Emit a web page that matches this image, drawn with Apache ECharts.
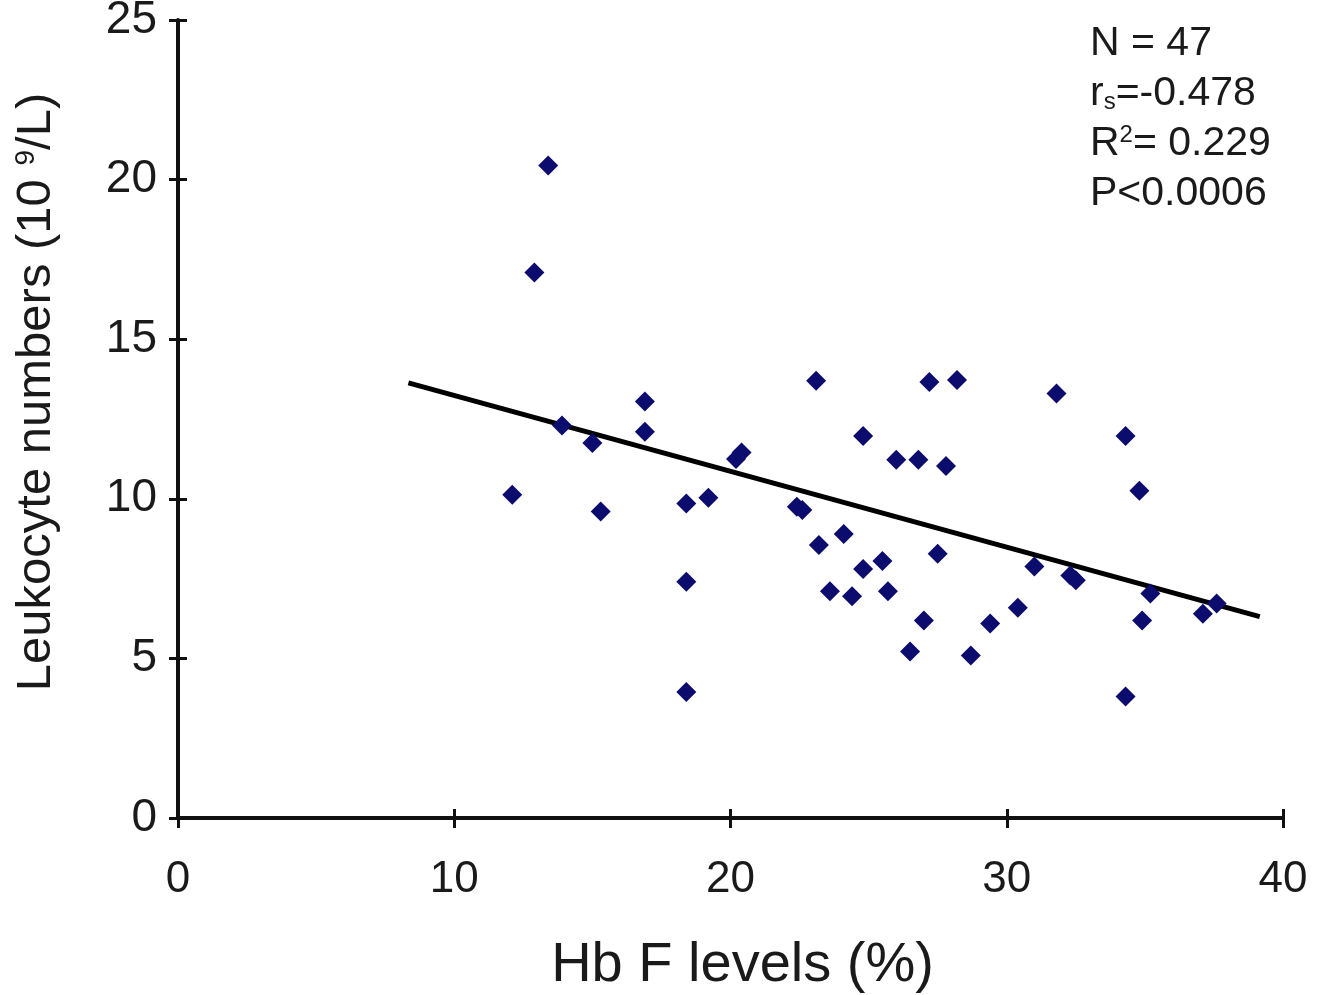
<!DOCTYPE html>
<html>
<head>
<meta charset="utf-8">
<script src="https://cdn.jsdelivr.net/npm/echarts@6/dist/echarts.min.js"></script>
<style>
  html, body { margin: 0; padding: 0; background: #fff; }
  #chart { width: 1333px; height: 995px; }
</style>
</head>
<body>
<div id="chart"></div>
<script>
// Hb F (%) vs leukocyte count
const hbf = [12.1, 13.4, 12.9, 13.9, 15.0, 15.3, 16.9, 16.9, 18.4, 18.4, 18.4, 19.2,
  20.2, 20.4, 22.4, 22.6, 23.1, 23.2, 24.1, 23.6, 24.4, 24.8, 25.5, 25.7, 24.8,
  26.0, 26.8, 27.8, 27.2, 28.2, 27.5, 27.0, 26.5, 28.7, 29.4, 30.4, 31.0, 31.8,
  32.3, 32.5, 34.3, 34.8, 35.2, 34.9, 34.3, 37.1, 37.6]
const leuko = [10.13, 20.44, 17.09, 12.3, 11.75, 9.6, 13.05, 12.1, 9.85, 7.4, 3.95, 10.03,
  11.25, 11.45, 9.75, 9.65, 13.7, 8.55, 8.9, 7.1, 6.95, 7.8, 8.05, 7.1, 11.97,
  11.22, 11.22, 11.03, 13.66, 13.72, 8.28, 6.19, 5.22, 5.09, 6.09, 6.59, 7.88, 13.3,
  7.6, 7.45, 11.97, 10.25, 7.03, 6.19, 3.81, 6.4, 6.72]
// regression line end points
const trendX = [8.34, 39.16]
const trendY = [13.63, 6.31]
const statLines = ['N = 47', '{t|r}{sub|s}{t|=-0.478}', '{t|R}{sup|2}{t|= 0.229}', 'P<0.0006']

const font = 'Liberation Sans, Arial, sans-serif'
const ink = '#1a1a1a'
const chart = echarts.init(document.getElementById('chart'))

let points = hbf.map((x, i) => [x, leuko[i]])
let trend = trendX.map((x, i) => [x, trendY[i]])

let option = {
  backgroundColor: '#fff',
  animation: false,
  grid: { left: 178, right: 50, top: 20, bottom: 177, containLabel: false, outerBoundsMode: 'none' },
  xAxis: [{
    type: 'value',
    min: 0, max: 40, interval: 10,
    name: 'Hb F levels (%)',
    nameLocation: 'middle',
    nameGap: 120,
    nameTextStyle: { fontFamily: font, fontSize: 56, color: ink, padding: [0, 0, 0, 24] },
    axisLine: { onZero: false, lineStyle: { color: '#111', width: 4 } },
    axisTick: { show: true, length: 10, lineStyle: { color: '#111', width: 3 } },
    axisLabel: { margin: 40, fontFamily: font, fontSize: 44, color: ink },
    splitLine: { show: false }
  }, {
    // second copy only to draw the inner half of the crossing ticks
    type: 'value',
    position: 'bottom',
    min: 0, max: 40, interval: 10,
    axisLine: { show: false, onZero: false },
    axisTick: { show: true, inside: true, length: 9, lineStyle: { color: '#111', width: 3 } },
    axisLabel: { show: false },
    splitLine: { show: false }
  }],
  yAxis: [{
    type: 'value',
    min: 0, max: 25, interval: 5,
    name: '{t|Leukocyte numbers (10 }{sup|9}{t|/L)}',
    nameLocation: 'middle',
    nameGap: 117,
    nameTextStyle: {
      padding: [0, 0, 0, 54],
      rich: {
        t: { fontFamily: font, fontSize: 49, color: ink },
        sup: { fontFamily: font, fontSize: 28, color: ink, verticalAlign: 'top', padding: [0, 0, 18, 0] }
      }
    },
    axisLine: { onZero: false, lineStyle: { color: '#111', width: 4 } },
    axisTick: { show: true, length: 9, lineStyle: { color: '#111', width: 3 } },
    axisLabel: { margin: 21, fontFamily: font, fontSize: 46, color: ink },
    splitLine: { show: false }
  }, {
    type: 'value',
    position: 'left',
    min: 0, max: 25, interval: 5,
    axisLine: { show: false, onZero: false },
    axisTick: { show: true, inside: true, length: 9, lineStyle: { color: '#111', width: 3 } },
    axisLabel: { show: false },
    splitLine: { show: false }
  }],
  series: [
    {
      name: 'trend',
      type: 'line',
      data: trend,
      symbol: 'none',
      lineStyle: { color: '#000', width: 5 },
      z: 2
    },
    {
      name: 'patients',
      type: 'scatter',
      data: points,
      symbol: 'diamond',
      symbolSize: 20,
      itemStyle: { color: '#0c0c6e', opacity: 1 },
      z: 3
    }
  ],
  graphic: statLines.map((s, i) => ({
    type: 'text',
    left: 1090,
    top: 23 + i * 50,
    style: {
      text: s,
      fontFamily: font,
      fontSize: 41,
      fill: ink,
      rich: {
        t: { fontFamily: font, fontSize: 41, color: ink },
        sub: { fontFamily: font, fontSize: 24, color: ink, verticalAlign: 'bottom', padding: [16, 0, 0, 0] },
        sup: { fontFamily: font, fontSize: 24, color: ink, verticalAlign: 'top', padding: [0, 0, 16, 0] }
      }
    }
  }))
}

chart.setOption(option)
</script>
</body>
</html>
